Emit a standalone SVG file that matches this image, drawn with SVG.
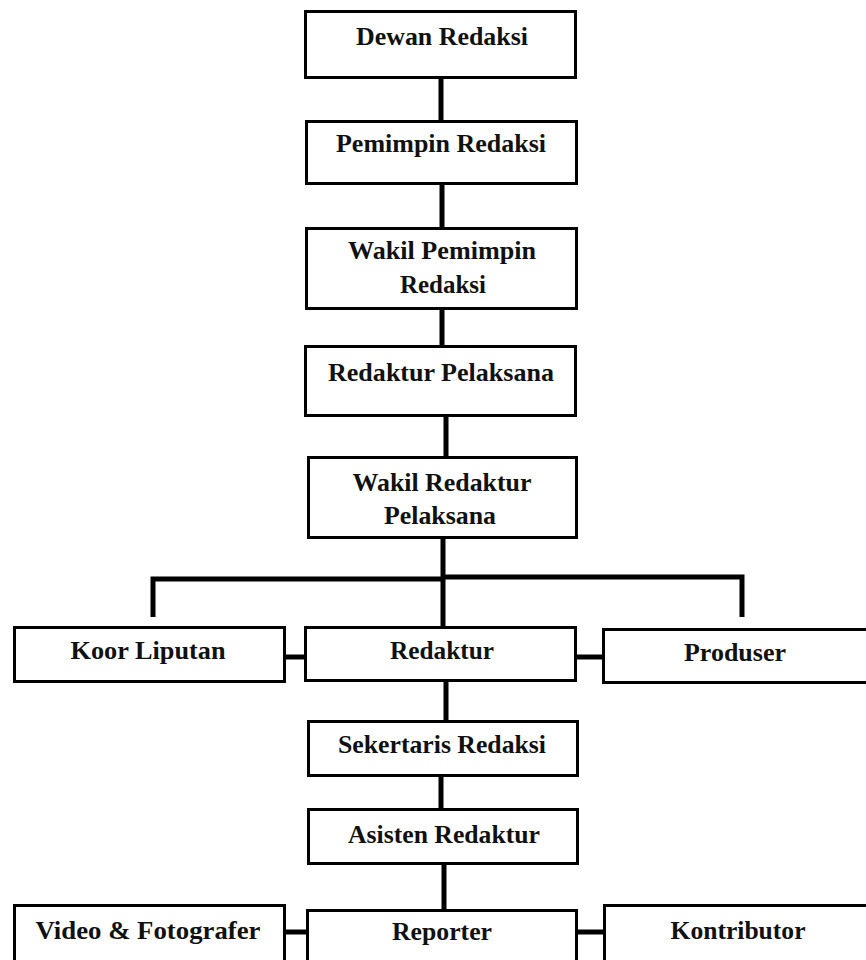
<svg xmlns="http://www.w3.org/2000/svg" width="866" height="960" viewBox="0 0 866 960">
<style>
.box{fill:#fff;stroke:#000;stroke-width:3}
.lbl{font-family:"Liberation Serif","Times New Roman",serif;font-weight:bold;font-size:26px;fill:#111;text-anchor:middle}
.conn{stroke:#000;stroke-width:5;fill:none}
</style>
<rect width="866" height="960" fill="#fff"/>
<g id="connectors">
<line class="conn" x1="441" y1="78" x2="441" y2="121"/>
<line class="conn" x1="442" y1="184" x2="442" y2="228"/>
<line class="conn" x1="442" y1="309" x2="442" y2="346"/>
<line class="conn" x1="446" y1="416" x2="446" y2="457"/>
<line class="conn" x1="443" y1="538" x2="443" y2="627"/>
<polyline class="conn" points="153,617 153,579 443,579"/>
<polyline class="conn" points="443,577 742,577 742,617"/>
<line class="conn" x1="285" y1="657" x2="306" y2="657"/>
<line class="conn" x1="576" y1="657" x2="603" y2="657"/>
<line class="conn" x1="446" y1="681" x2="446" y2="721"/>
<line class="conn" x1="441" y1="776" x2="441" y2="809"/>
<line class="conn" x1="444" y1="864" x2="444" y2="910"/>
<line class="conn" x1="285" y1="932" x2="308" y2="932"/>
<line class="conn" x1="577" y1="932" x2="604" y2="932"/>
</g>
<g id="dewan-redaksi"><rect class="box" x="305.5" y="11.5" width="270" height="66"/><text class="lbl" x="442" y="45" textLength="172" lengthAdjust="spacingAndGlyphs">Dewan Redaksi</text></g>
<g id="pemimpin-redaksi"><rect class="box" x="306.5" y="121.5" width="270" height="62"/><text class="lbl" x="441" y="152" textLength="210" lengthAdjust="spacingAndGlyphs">Pemimpin Redaksi</text></g>
<g id="wakil-pemimpin-redaksi"><rect class="box" x="306.5" y="228.5" width="270" height="80"/><text class="lbl" x="442" y="259" textLength="188" lengthAdjust="spacingAndGlyphs">Wakil Pemimpin</text><text class="lbl" x="443" y="293" textLength="86" lengthAdjust="spacingAndGlyphs">Redaksi</text></g>
<g id="redaktur-pelaksana"><rect class="box" x="305.5" y="346.5" width="270" height="69"/><text class="lbl" x="441" y="381" textLength="226" lengthAdjust="spacingAndGlyphs">Redaktur Pelaksana</text></g>
<g id="wakil-redaktur-pelaksana"><rect class="box" x="308.5" y="457.5" width="268" height="80"/><text class="lbl" x="442" y="491" textLength="179" lengthAdjust="spacingAndGlyphs">Wakil Redaktur</text><text class="lbl" x="440" y="524" textLength="112" lengthAdjust="spacingAndGlyphs">Pelaksana</text></g>
<g id="koor-liputan"><rect class="box" x="14.5" y="627.5" width="270" height="54"/><text class="lbl" x="148" y="659" textLength="155" lengthAdjust="spacingAndGlyphs">Koor Liputan</text></g>
<g id="redaktur"><rect class="box" x="305.5" y="627.5" width="270" height="53"/><text class="lbl" x="442" y="659" textLength="104" lengthAdjust="spacingAndGlyphs">Redaktur</text></g>
<g id="produser"><rect class="box" x="603.5" y="629.5" width="280" height="53"/><text class="lbl" x="735" y="661" textLength="102" lengthAdjust="spacingAndGlyphs">Produser</text></g>
<g id="sekertaris-redaksi"><rect class="box" x="308.5" y="721.5" width="269" height="54"/><text class="lbl" x="442" y="753" textLength="208" lengthAdjust="spacingAndGlyphs">Sekertaris Redaksi</text></g>
<g id="asisten-redaktur"><rect class="box" x="308.5" y="809.5" width="269" height="54"/><text class="lbl" x="444" y="843" textLength="192" lengthAdjust="spacingAndGlyphs">Asisten Redaktur</text></g>
<g id="video-fotografer"><rect class="box" x="14.5" y="905.5" width="270" height="70"/><text class="lbl" x="148" y="939" textLength="225" lengthAdjust="spacingAndGlyphs">Video &amp; Fotografer</text></g>
<g id="reporter"><rect class="box" x="307.5" y="910.5" width="269" height="70"/><text class="lbl" x="442" y="940" textLength="100" lengthAdjust="spacingAndGlyphs">Reporter</text></g>
<g id="kontributor"><rect class="box" x="604.5" y="905.5" width="280" height="70"/><text class="lbl" x="738" y="939" textLength="135" lengthAdjust="spacingAndGlyphs">Kontributor</text></g>
</svg>
